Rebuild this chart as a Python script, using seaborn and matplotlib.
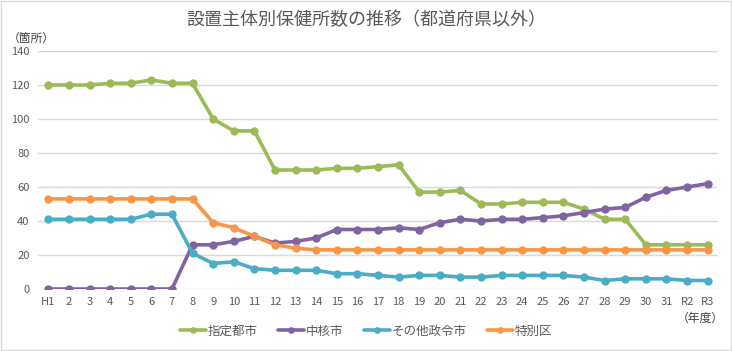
import matplotlib.pyplot as plt
import pandas as pd
import seaborn as sns

# Data
years = ['H1', '2', '3', '4', '5', '6', '7', '8', '9', '10', '11', '12', '13', '14', '15', '16',
         '17', '18', '19', '20', '21', '22', '23', '24', '25', '26', '27', '28', '29', '30', '31', 'R2', 'R3']
shitei = [120, 120, 120, 121, 121, 123, 121, 121, 100, 93, 93, 70, 70, 70, 71, 71,
          72, 73, 57, 57, 58, 50, 50, 51, 51, 51, 47, 41, 41, 26, 26, 26, 26]
chukaku = [0, 0, 0, 0, 0, 0, 0, 26, 26, 28, 31, 27, 28, 30, 35, 35,
           35, 36, 35, 39, 41, 40, 41, 41, 42, 43, 45, 47, 48, 54, 58, 60, 62]
seirei = [41, 41, 41, 41, 41, 44, 44, 21, 15, 16, 12, 11, 11, 11, 9, 9,
          8, 7, 8, 8, 7, 7, 8, 8, 8, 8, 7, 5, 6, 6, 6, 5, 5]
tokubetsu = [53, 53, 53, 53, 53, 53, 53, 53, 39, 36, 31, 26, 24, 23, 23, 23,
             23, 23, 23, 23, 23, 23, 23, 23, 23, 23, 23, 23, 23, 23, 23, 23, 23]

series_names = ['指定都市', '中核市', 'その他政令市', '特別区']
series_values = [shitei, chukaku, seirei, tokubetsu]
colors = ['#9BBB59', '#8064A2', '#4BACC6', '#F79646']

rows = []
for name, vals in zip(series_names, series_values):
    for i, v in enumerate(vals):
        rows.append({'pos': i, 'year': years[i], 'series': name, 'value': v})
df = pd.DataFrame(rows)

sns.set_style('white')
plt.rcParams['font.family'] = ['Noto Sans CJK JP', 'DejaVu Sans']

fig = plt.figure(figsize=(7.32, 3.51), dpi=100)
ax = fig.add_axes([38 / 732, 1 - 289 / 351, 680 / 732, 238 / 351])

sns.lineplot(data=df, x='pos', y='value', hue='series', hue_order=series_names,
             palette=colors, marker='o', markersize=6, markeredgewidth=0,
             linewidth=2.6, ax=ax, legend=True)

ax.set_xlim(-0.5, len(years) - 0.5)
ax.set_ylim(0, 140)
ax.set_yticks(range(0, 141, 20))
ax.set_xticks(range(len(years)))
ax.set_xticklabels(years)
ax.yaxis.grid(True, color='#D9D9D9', linewidth=1)
ax.set_axisbelow(True)
for s in ax.spines.values():
    s.set_visible(False)
ax.tick_params(axis='both', length=0, labelsize=8, colors='#595959', pad=6)
ax.set_xlabel('')
ax.set_ylabel('')

handles, labels = ax.get_legend_handles_labels()
ax.get_legend().remove()
fig.legend(handles, labels, loc='center', bbox_to_anchor=(0.5, 1 - 331 / 351),
           ncol=4, frameon=False, fontsize=9, handlelength=2.1, columnspacing=1.6,
           handletextpad=0.15, markerscale=0.8, labelcolor='#595959')

fig.text(0.5, 1 - 20 / 351, '設置主体別保健所数の推移（都道府県以外）', ha='center', va='center',
         fontsize=13, color='#595959')
fig.text(8 / 732, 1 - 38 / 351, '（箇所）', ha='left', va='center', fontsize=8.5, color='#404040')
fig.text(700 / 732, 1 - 318 / 351, '（年度）', ha='center', va='center', fontsize=8.5, color='#404040')

fig.patches.append(plt.Rectangle((0.001, 0.002), 0.997, 0.995, transform=fig.transFigure,
                                 fill=False, edgecolor='#D9D9D9', linewidth=1))

fig.savefig('out.png', dpi=100)
